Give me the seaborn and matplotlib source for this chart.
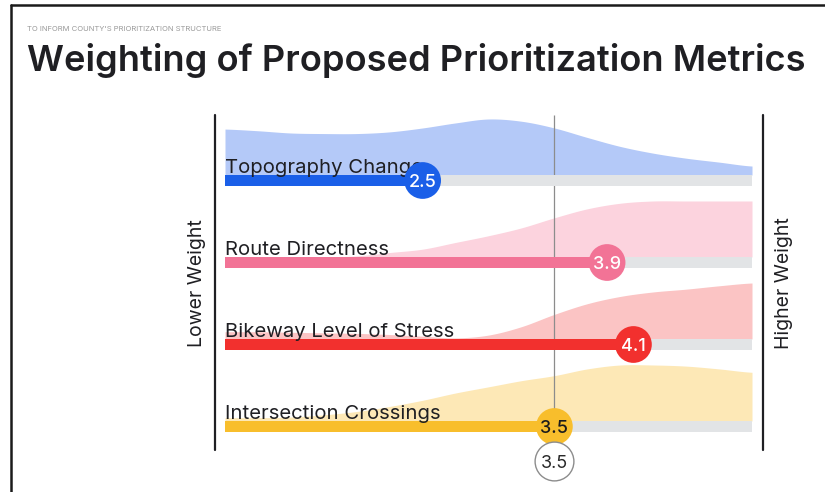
import numpy as np
import matplotlib
matplotlib.use("Agg")
import matplotlib.pyplot as plt
from matplotlib.lines import Line2D
import seaborn as sns

# ---- data -------------------------------------------------------------
metrics = ["Topography Change", "Route Directness",
           "Bikeway Level of Stress", "Intersection Crossings"]
weights = [2.5, 3.9, 4.1, 3.5]
average_weight = 3.5

# relative share of responses along the 1-5 weighting scale
score_grid = [1.0, 1.25, 1.5, 1.75, 2.0, 2.25, 2.5, 2.75, 3.0,
              3.25, 3.5, 3.75, 4.0, 4.25, 4.5, 4.75, 5.0]
topography_density = [0.82, 0.79, 0.75, 0.74, 0.74, 0.77, 0.84, 0.93, 1.00,
                      0.96, 0.84, 0.67, 0.51, 0.39, 0.30, 0.23, 0.16]
route_density = [0.00, 0.00, 0.00, 0.00, 0.02, 0.08, 0.14, 0.26, 0.38,
                 0.52, 0.70, 0.86, 0.96, 1.00, 1.00, 1.00, 1.00]
stress_density = [0.13, 0.13, 0.12, 0.11, 0.10, 0.08, 0.05, 0.02, 0.07,
                  0.22, 0.44, 0.63, 0.76, 0.84, 0.89, 0.95, 1.00]
crossing_density = [0.06, 0.06, 0.07, 0.11, 0.17, 0.26, 0.37, 0.50, 0.61,
                    0.72, 0.81, 0.93, 1.00, 1.00, 0.98, 0.93, 0.87]
densities = [topography_density, route_density, stress_density, crossing_density]

# ---- style ------------------------------------------------------------
bar_colors = ["#1a5fe8", "#f27396", "#f2302e", "#f8be2c"]
area_colors = ["#b4c9f8", "#fcd3de", "#fbc4c4", "#fde8b6"]
value_text_colors = ["white", "white", "white", "#1c1c1c"]
track_color = "#e2e4e6"
ink = "#1f1f23"

sns.set_theme(style="white")
plt.rcParams["font.family"] = ["Inter", "DejaVu Sans"]

W, H, DPI = 825, 492, 100
fig = plt.figure(figsize=(W / DPI, H / DPI), dpi=DPI)
fig.patch.set_facecolor("white")
ax = fig.add_axes([0, 0, 1, 1])
ax.axis("off")

# scale 1..5 spans the track from x=225px to x=752px
track_left, track_right = 225, 752
px_per_unit = (track_right - track_left) / 4.0
ax.set_xlim(1 - track_left / px_per_unit, 1 + (W - track_left) / px_per_unit)
row_px, row0_px = 82.0, 180.5
ax.set_ylim((H - row0_px) / row_px, -row0_px / row_px)


def fx(px):
    return px / W


def fy(py):
    return 1 - py / H


def catmull_rom(xs, ys, n=16):
    xs = np.asarray(xs, float)
    ys = np.asarray(ys, float)
    px = np.concatenate([[2 * xs[0] - xs[1]], xs, [2 * xs[-1] - xs[-2]]])
    py = np.concatenate([[ys[0]], ys, [ys[-1]]])
    out_x, out_y = [], []
    t = np.linspace(0, 1, n, endpoint=False)
    for k in range(1, len(px) - 2):
        p0, p1, p2, p3 = py[k - 1], py[k], py[k + 1], py[k + 2]
        out_y.append(0.5 * ((2 * p1) + (-p0 + p2) * t
                            + (2 * p0 - 5 * p1 + 4 * p2 - p3) * t ** 2
                            + (-p0 + 3 * p1 - 3 * p2 + p3) * t ** 3))
        out_x.append(px[k] + (px[k + 1] - px[k]) * t)
    out_x.append([xs[-1]])
    out_y.append([ys[-1]])
    return np.concatenate(out_x), np.clip(np.concatenate(out_y), 0, None)


rows = np.arange(len(metrics))
bar_h = 11 / row_px
area_h = 56 / row_px

for i, dens in enumerate(densities):
    sx, sy = catmull_rom(score_grid, dens)
    base = i - bar_h / 2
    ax.fill_between(sx, base - sy * area_h, base, color=area_colors[i],
                    lw=0, zorder=1)

# average marker line
ax.vlines(average_weight, (115 - row0_px) / row_px, (442 - row0_px) / row_px,
          color="#8c8c8c", lw=0.9, zorder=2)

# tracks and weight bars
ax.barh(rows, [4] * len(rows), left=1, height=bar_h, color=track_color,
        lw=0, zorder=2)
ax.barh(rows, np.array(weights) - 1, left=1, height=bar_h, color=bar_colors,
        lw=0, zorder=3)

for i, name in enumerate(metrics):
    ax.text(1.0, i - bar_h / 2 - 2 / row_px, name, ha="left", va="baseline",
            fontsize=14.6, color=ink, zorder=4)

sns.scatterplot(x=weights, y=rows, hue=metrics, palette=bar_colors, s=700,
                legend=False, edgecolor="none", ax=ax, zorder=5)
for i, w in enumerate(weights):
    ax.text(w, i, f"{w}", ha="center", va="center_baseline", fontsize=13,
            fontweight="medium", color=value_text_colors[i], zorder=6)

# average value badge
badge_y = (461 - row0_px) / row_px
ax.scatter([average_weight], [badge_y], s=780, facecolor="white",
           edgecolor="#8c8c8c", linewidth=1.0, zorder=5)
ax.text(average_weight, badge_y, f"{average_weight}", ha="center",
        va="center_baseline", fontsize=13, color="#2a2a2a", zorder=6)

# side rules and captions
for x_px in (215, 763):
    fig.add_artist(Line2D([fx(x_px)] * 2, [fy(115), fy(450)],
                          transform=fig.transFigure, color=ink, lw=1.6))
fig.text(fx(197), fy(283), "Lower Weight", rotation=90, ha="center",
         va="center", fontsize=14, color=ink)
fig.text(fx(784), fy(283), "Higher Weight", rotation=90, ha="center",
         va="center", fontsize=14, color=ink)

# page frame
fig.add_artist(Line2D([fx(11), fx(11)], [fy(5), fy(H)],
                      transform=fig.transFigure, color="#1a1a1a", lw=1.8))
fig.add_artist(Line2D([fx(11), fx(W)], [fy(5), fy(5)],
                      transform=fig.transFigure, color="#1a1a1a", lw=1.8))

fig.text(fx(27), fy(31), "TO INFORM COUNTY'S PRIORITIZATION STRUCTURE",
         fontsize=5.5, color="#9a9a9a", ha="left", va="baseline")
title = fig.text(fx(27), fy(71), "Weighting of Proposed Prioritization Metrics",
                 fontsize=26, fontweight="semibold", color=ink, ha="left",
                 va="baseline")

# fit title to its column width
fig.canvas.draw()
r = fig.canvas.get_renderer()
tw = title.get_window_extent(r).width
title.set_fontsize(26 * 778 / tw)

fig.savefig("out.png", dpi=DPI, facecolor="white")
